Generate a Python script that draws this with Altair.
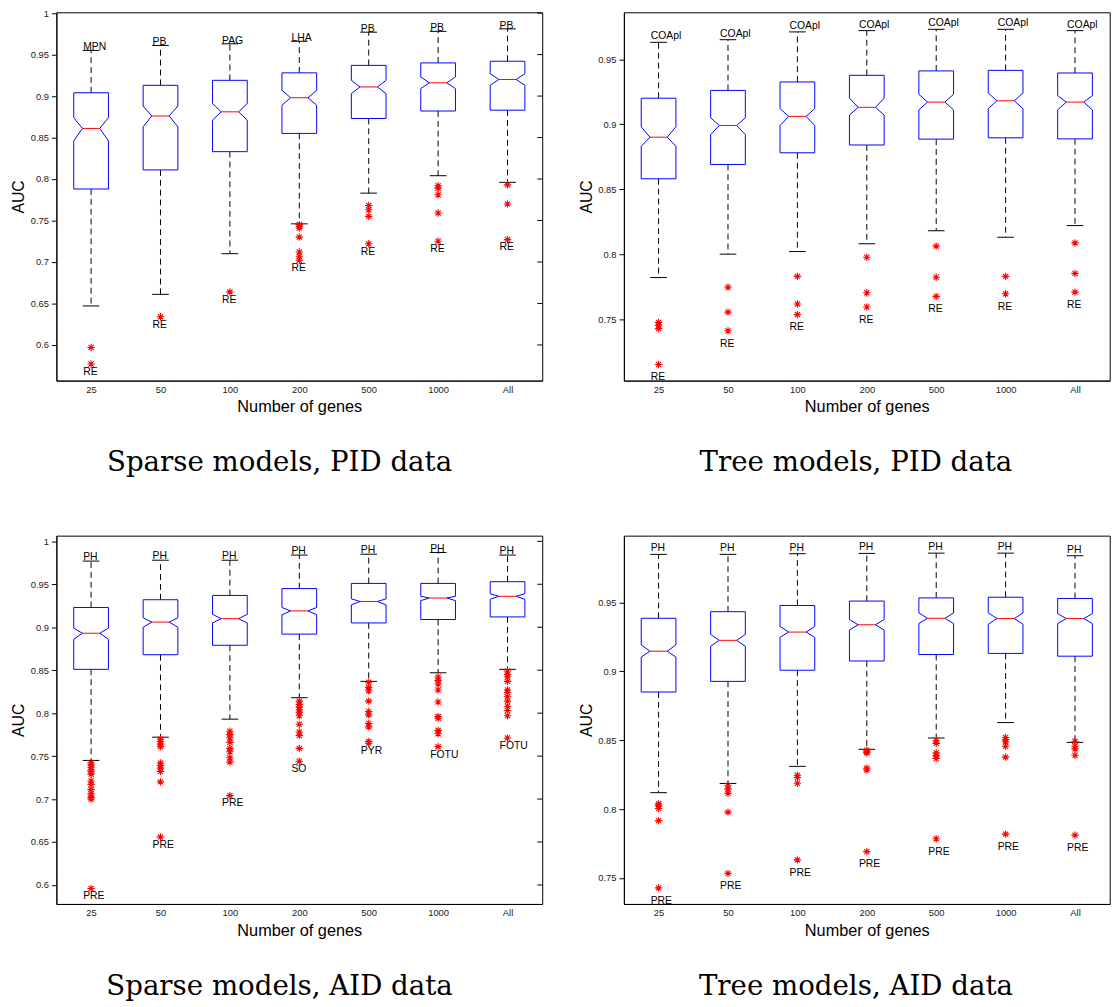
import json
import altair as alt
import pandas as pd

CATEGORIES = ["25", "50", "100", "200", "500", "1000", "All"]

# ---------------- Sparse models, PID data ----------------
SP_PID_WHI = [0.955, 0.961, 0.963, 0.966, 0.977, 0.978, 0.981]
SP_PID_Q3 = [0.904, 0.913, 0.919, 0.928, 0.937, 0.940, 0.942]
SP_PID_NHI = [0.874, 0.888, 0.891, 0.907, 0.919, 0.923, 0.927]
SP_PID_MED = [0.861, 0.876, 0.881, 0.898, 0.911, 0.916, 0.920]
SP_PID_NLO = [0.846, 0.863, 0.871, 0.889, 0.903, 0.909, 0.913]
SP_PID_Q1 = [0.788, 0.811, 0.833, 0.855, 0.873, 0.882, 0.883]
SP_PID_WLO = [0.647, 0.661, 0.710, 0.746, 0.783, 0.804, 0.796]
SP_PID_OUT = [
    [0.597, 0.577],
    [0.634],
    [0.664],
    [0.745, 0.743, 0.741, 0.730, 0.712, 0.707, 0.702],
    [0.768, 0.763, 0.755, 0.722],
    [0.792, 0.789, 0.781, 0.759, 0.725],
    [0.793, 0.770, 0.727],
]
SP_PID_TOP = ["MPN", "PB", "PAG", "LHA", "PB", "PB", "PB"]
SP_PID_BOT = ["RE", "RE", "RE", "RE", "RE", "RE", "RE"]

# ---------------- Tree models, PID data ----------------
TR_PID_WHI = [0.963, 0.965, 0.971, 0.972, 0.973, 0.973, 0.972]
TR_PID_Q3 = [0.920, 0.926, 0.9325, 0.9376, 0.941, 0.9414, 0.9394]
TR_PID_NHI = [0.898, 0.905, 0.912, 0.920, 0.923, 0.924, 0.922]
TR_PID_MED = [0.890, 0.899, 0.906, 0.913, 0.917, 0.918, 0.917]
TR_PID_NLO = [0.883, 0.892, 0.899, 0.907, 0.911, 0.912, 0.911]
TR_PID_Q1 = [0.858, 0.869, 0.878, 0.884, 0.8885, 0.8895, 0.8887]
TR_PID_WLO = [0.782, 0.800, 0.802, 0.808, 0.818, 0.813, 0.822]
TR_PID_OUT = [
    [0.7475, 0.7454, 0.7427, 0.7151],
    [0.7746, 0.7554, 0.7411],
    [0.7829, 0.7616, 0.7535],
    [0.7976, 0.7703, 0.7594],
    [0.8062, 0.7822, 0.7675],
    [0.7829, 0.7695],
    [0.8087, 0.7852, 0.7708],
]
TR_PID_TOP = ["COApl"] * 7
TR_PID_BOT = ["RE"] * 7

# ---------------- Sparse models, AID data ----------------
SP_AID_WHI = [0.977, 0.978, 0.978, 0.984, 0.985, 0.987, 0.984]
SP_AID_Q3 = [0.923, 0.932, 0.937, 0.945, 0.951, 0.951, 0.953]
SP_AID_NHI = [0.899, 0.911, 0.915, 0.923, 0.933, 0.936, 0.939]
SP_AID_MED = [0.893, 0.906, 0.910, 0.919, 0.930, 0.934, 0.936]
SP_AID_NLO = [0.886, 0.900, 0.905, 0.9145, 0.926, 0.931, 0.9325]
SP_AID_Q1 = [0.851, 0.868, 0.879, 0.892, 0.905, 0.909, 0.912]
SP_AID_WLO = [0.745, 0.772, 0.793, 0.818, 0.837, 0.847, 0.851]
SP_AID_OUT = [
    [0.742, 0.740, 0.737, 0.734, 0.732, 0.729, 0.721, 0.717, 0.711, 0.706, 0.702, 0.700, 0.596],
    [0.770, 0.767, 0.764, 0.761, 0.742, 0.739, 0.736, 0.732, 0.720, 0.656],
    [0.779, 0.775, 0.771, 0.766, 0.759, 0.755, 0.748, 0.743, 0.704],
    [0.814, 0.810, 0.807, 0.804, 0.801, 0.797, 0.787, 0.778, 0.774, 0.759, 0.744],
    [0.836, 0.830, 0.826, 0.814, 0.802, 0.798, 0.788, 0.784, 0.767, 0.765],
    [0.842, 0.838, 0.834, 0.827, 0.813, 0.796, 0.794, 0.780, 0.776, 0.761],
    [0.849, 0.845, 0.842, 0.837, 0.827, 0.824, 0.819, 0.814, 0.808, 0.803, 0.797, 0.771],
]
SP_AID_TOP = ["PH"] * 7
SP_AID_BOT = ["PRE", "PRE", "PRE", "SO", "PYR", "FOTU", "FOTU"]

# ---------------- Tree models, AID data ----------------
TR_AID_WHI = [0.9849, 0.9849, 0.9854, 0.9856, 0.9858, 0.9858, 0.9839]
TR_AID_Q3 = [0.9385, 0.9433, 0.9478, 0.9510, 0.9533, 0.9538, 0.9529]
TR_AID_NHI = [0.9192, 0.9268, 0.9326, 0.9376, 0.9424, 0.9424, 0.9419]
TR_AID_MED = [0.9146, 0.9225, 0.9285, 0.9338, 0.9385, 0.9383, 0.9383]
TR_AID_NLO = [0.9103, 0.9182, 0.9247, 0.9300, 0.9347, 0.9342, 0.9347]
TR_AID_Q1 = [0.8850, 0.8927, 0.9008, 0.9075, 0.9122, 0.9130, 0.9110]
TR_AID_WLO = [0.8119, 0.8186, 0.8310, 0.8434, 0.8516, 0.8628, 0.8484]
TR_AID_OUT = [
    [0.8038, 0.8023, 0.8004, 0.7916, 0.7428],
    [0.8169, 0.8145, 0.8114, 0.7978, 0.7533],
    [0.8245, 0.8229, 0.8188, 0.7631],
    [0.8427, 0.8415, 0.8408, 0.8296, 0.8284, 0.7691],
    [0.8496, 0.8477, 0.8408, 0.8386, 0.8367, 0.7784],
    [0.8520, 0.8504, 0.8487, 0.8456, 0.8377, 0.7818],
    [0.8492, 0.8456, 0.8437, 0.8391, 0.7811],
]
TR_AID_TOP = ["PH"] * 7
TR_AID_BOT = ["PRE"] * 7

# axis ranges and ticks
SP_PID_DOMAIN = [0.557, 1.001]
TR_PID_DOMAIN = [0.7027, 0.9861]
SP_AID_DOMAIN = [0.5779, 1.0066]
TR_AID_DOMAIN = [0.7311, 0.9985]
SP_TICKS = [0.6, 0.65, 0.7, 0.75, 0.8, 0.85, 0.9, 0.95, 1.0]
TR_TICKS = [0.75, 0.8, 0.85, 0.9, 0.95]

CAPTIONS = ["Sparse models, PID data", "Tree models, PID data",
            "Sparse models, AID data", "Tree models, AID data"]

# ---------------- styling ----------------
W, H = 492, 373
BW = 0.25     # box half width (x units)
NW = 0.125    # notch half width at median
CW = 0.12     # whisker cap half width
SANS = "Liberation Sans"
SERIF = "DejaVu Serif"
ASTERISK = "M-1,0L1,0M0,-1L0,1M-0.7,-0.7L0.7,0.7M-0.7,0.7L0.7,-0.7"
LABEL_EXPR = json.dumps(CATEGORIES) + "[datum.value - 1]"


def make_panel(whi, q3, nhi, med, nlo, q1, wlo, outs, top, bot,
               domain, ticks, caption, top_dy, bot_dy, right_ticks, cap_dx):
    n = len(CATEGORIES)
    xs = alt.Scale(domain=[0.5, n + 0.5], nice=False, zero=False)
    ys = alt.Scale(domain=domain, nice=False, zero=False)
    xaxis = alt.Axis(title="Number of genes", values=list(range(1, n + 1)),
                     labelExpr=LABEL_EXPR, tickSize=0, labelPadding=4,
                     grid=False, labelAngle=0, titleY=31.5,
                     titleBaseline="alphabetic")
    yaxis = alt.Axis(title="AUC", values=ticks, format=".2~f", tickSize=5,
                     labelPadding=3, grid=False, titleX=-33,
                     titleBaseline="alphabetic")

    boxes, meds, whisk, pts, labs = [], [], [], [], []
    for i in range(n):
        c = i + 1
        verts = [(-BW, q3[i]), (BW, q3[i]), (BW, nhi[i]), (NW, med[i]),
                 (BW, nlo[i]), (BW, q1[i]), (-BW, q1[i]), (-BW, nlo[i]),
                 (-NW, med[i]), (-BW, nhi[i]), (-BW, q3[i])]
        for k, (dx, yv) in enumerate(verts):
            boxes.append({"x": c + dx, "y": yv, "box": i, "ord": k})
        meds.append({"ml": c - NW, "mh": c + NW, "y": med[i]})
        whisk.append({"x": c, "cl": c - CW, "ch": c + CW, "q3": q3[i],
                      "whi": whi[i], "q1": q1[i], "wlo": wlo[i]})
        for o in outs[i]:
            pts.append({"x": c, "y": o})
        low = min(outs[i] + [wlo[i]])
        labs.append({"x": c, "top": whi[i], "low": low,
                     "tt": top[i], "bt": bot[i]})

    dbox = pd.DataFrame(boxes)
    dmed = pd.DataFrame(meds)
    dwh = pd.DataFrame(whisk)
    dpt = pd.DataFrame(pts)
    dlab = pd.DataFrame(labs)

    def X(f):
        return alt.X(f, type="quantitative", scale=xs, axis=xaxis)

    def Y(f):
        return alt.Y(f, type="quantitative", scale=ys, axis=yaxis)

    base_wh = alt.Chart(dwh)
    up = base_wh.mark_rule(color="black", strokeWidth=1, strokeDash=[6, 4]).encode(
        x=X("x"), y=Y("q3"), y2="whi:Q")
    lo = base_wh.mark_rule(color="black", strokeWidth=1, strokeDash=[6, 4]).encode(
        x=X("x"), y=Y("q1"), y2="wlo:Q")
    capu = base_wh.mark_rule(color="black", strokeWidth=1).encode(
        x=X("cl"), x2="ch:Q", y=Y("whi"))
    capl = base_wh.mark_rule(color="black", strokeWidth=1).encode(
        x=X("cl"), x2="ch:Q", y=Y("wlo"))
    box = alt.Chart(dbox).mark_line(color="#0000ff", strokeWidth=1).encode(
        x=X("x"), y=Y("y"), detail="box:N", order="ord:Q")
    medl = alt.Chart(dmed).mark_rule(color="#ff0000", strokeWidth=1).encode(
        x=X("ml"), x2="mh:Q", y=Y("y"))
    outl = alt.Chart(dpt).mark_point(shape=ASTERISK, size=56, filled=False,
                                     color="#ff0000", strokeWidth=1.1,
                                     opacity=1).encode(x=X("x"), y=Y("y"))
    tlab = alt.Chart(dlab).mark_text(align="left", baseline="alphabetic",
                                     dx=-8, dy=top_dy, font=SANS,
                                     fontSize=10.5, color="black",
                                     clip=True).encode(
        x=X("x"), y=Y("top"), text="tt:N")
    blab = alt.Chart(dlab).mark_text(align="left", baseline="top",
                                     dx=-8, dy=bot_dy, font=SANS,
                                     fontSize=10.5, color="black",
                                     clip=True).encode(
        x=X("x"), y=Y("low"), text="bt:N")
    layers = [up, lo, capu, capl, box, medl, outl, tlab, blab]
    if right_ticks:
        rt = alt.Chart(pd.DataFrame({"v": ticks})).mark_rule(
            color="black", strokeWidth=1).encode(
            y=Y("v"), x=alt.value(W - 5), x2=alt.value(W))
        layers.append(rt)

    return alt.layer(*layers).properties(
        width=W, height=H,
        title=alt.TitleParams(text=caption, orient="bottom", anchor="middle",
                              frame="group", dx=cap_dx, offset=35, font=SERIF,
                              fontSize=28, fontWeight="normal", color="black"))


p1 = make_panel(SP_PID_WHI, SP_PID_Q3, SP_PID_NHI, SP_PID_MED, SP_PID_NLO,
                SP_PID_Q1, SP_PID_WLO, SP_PID_OUT, SP_PID_TOP, SP_PID_BOT,
                SP_PID_DOMAIN, SP_TICKS, CAPTIONS[0], 0, 3, True, -20)
p2 = make_panel(TR_PID_WHI, TR_PID_Q3, TR_PID_NHI, TR_PID_MED, TR_PID_NLO,
                TR_PID_Q1, TR_PID_WLO, TR_PID_OUT, TR_PID_TOP, TR_PID_BOT,
                TR_PID_DOMAIN, TR_TICKS, CAPTIONS[1], -3, 8, False, -11)
p3 = make_panel(SP_AID_WHI, SP_AID_Q3, SP_AID_NHI, SP_AID_MED, SP_AID_NLO,
                SP_AID_Q1, SP_AID_WLO, SP_AID_OUT, SP_AID_TOP, SP_AID_BOT,
                SP_AID_DOMAIN, SP_TICKS, CAPTIONS[2], -1, 3, True, -20)
p4 = make_panel(TR_AID_WHI, TR_AID_Q3, TR_AID_NHI, TR_AID_MED, TR_AID_NLO,
                TR_AID_Q1, TR_AID_WLO, TR_AID_OUT, TR_AID_TOP, TR_AID_BOT,
                TR_AID_DOMAIN, TR_TICKS, CAPTIONS[3], -3, 8, False, -11)

chart = alt.concat(
    p1, p2, p3, p4, columns=2,
    spacing=alt.RowColnumber(row=157, column=82.7), bounds="flush"
).properties(
    padding={"left": 2, "top": -7, "right": 0, "bottom": 0}
).configure_view(
    stroke="black", strokeWidth=1
).configure_axis(
    domainColor="black", domainWidth=1, tickColor="black", tickWidth=1,
    labelFont=SANS, labelFontSize=9.5, labelColor="#1a1a1a",
    titleFont=SANS, titleFontSize=16.5, titleFontWeight="normal",
    titleColor="black"
).configure_axisY(titleFontSize=16)

chart.save("out.html", embed_options={"renderer": "svg", "actions": False})
